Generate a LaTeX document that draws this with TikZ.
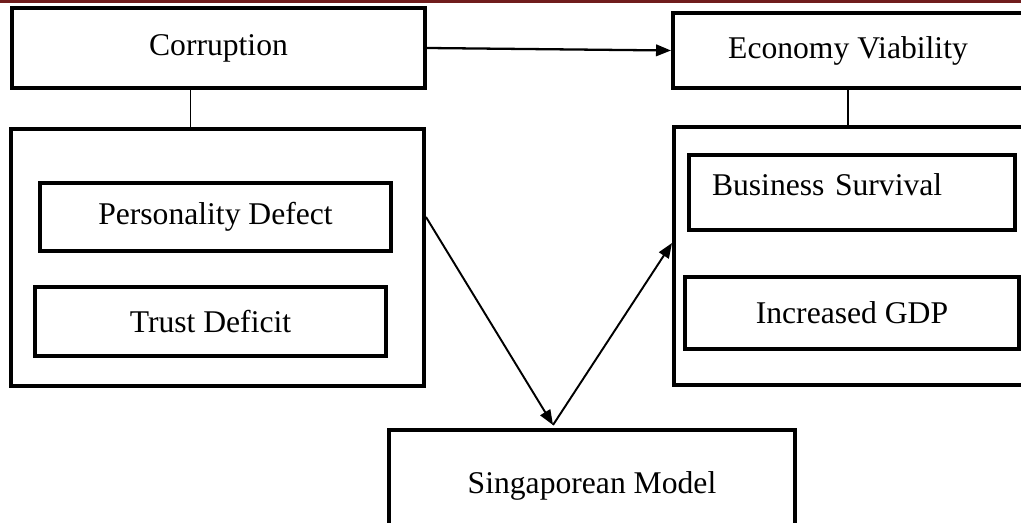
\documentclass[tikz,border=0pt]{standalone}
\usepackage{fontspec}
\setmainfont{Liberation Serif}
\usepackage{xcolor}
\usetikzlibrary{positioning,arrows.meta,calc}
\definecolor{headred}{RGB}{112,28,28}

\begin{document}
\begin{tikzpicture}[
  x=0.02cm, y=-0.02cm,
  font=\fontsize{18}{22}\selectfont,
  box/.style={rectangle,draw,line width=2.3pt,align=center,inner sep=0pt},
  frame/.style={rectangle,draw,line width=2.3pt,inner sep=0pt},
  link/.style={line width=0.8pt},
  arr/.style={-{Triangle[length=3mm,width=2.3mm]},line width=1.1pt}
]
\useasboundingbox (0,0) rectangle (1021,523);
\clip (0,0) rectangle (1021,523);
\fill[headred] (0,0) rectangle (1021,3);

% ---- left side: causes ----
\node[box,minimum width=8.26cm,minimum height=1.6cm] (corr) at (218.5,48) {Corruption};
\node[frame,minimum width=8.26cm,minimum height=5.14cm] (lbig) at (217.5,257.5) {};
\node[box,minimum width=7.02cm,minimum height=1.36cm] (pers) at (215.5,217) {Personality Defect};
\node[box,minimum width=7.02cm,minimum height=1.38cm] (trust) at (210.5,321.5) {Trust Deficit};
\draw[link] ([xshift=-0.56cm]corr.south) -- ([xshift=-0.56cm]corr.south |- lbig.north);

% ---- right side: effects ----
\node[box,minimum width=7.0cm,minimum height=1.5cm] (econ) at (848,50.5) {Economy Viability};
\node[frame,minimum width=7.92cm,minimum height=5.16cm] (rbig) at (872,256) {};
\node[box,minimum width=6.52cm,minimum height=1.5cm,text width=5.6cm,align=left,
      text depth=0.3cm] (bus) at (852,192.5) {Business Survival};
\node[box,minimum width=6.7cm,minimum height=1.44cm] (gdp) at (852,313) {Increased GDP};
\draw[link] (econ.south) -- (econ.south |- rbig.north);

% ---- middle: model ----
\node[box,minimum width=8.12cm,minimum height=2.24cm] (sing) at (592,486) {Singaporean Model};

\draw[arr,line width=1.3pt] (corr.east) -- (econ.west);
\draw[arr] (lbig.east |- pers.east) -- ([xshift=-0.78cm,yshift=0.06cm]sing.north);
\draw[arr] ([xshift=-0.78cm,yshift=0.06cm]sing.north) -- ([yshift=0.26cm]rbig.west);

\end{tikzpicture}
\end{document}
